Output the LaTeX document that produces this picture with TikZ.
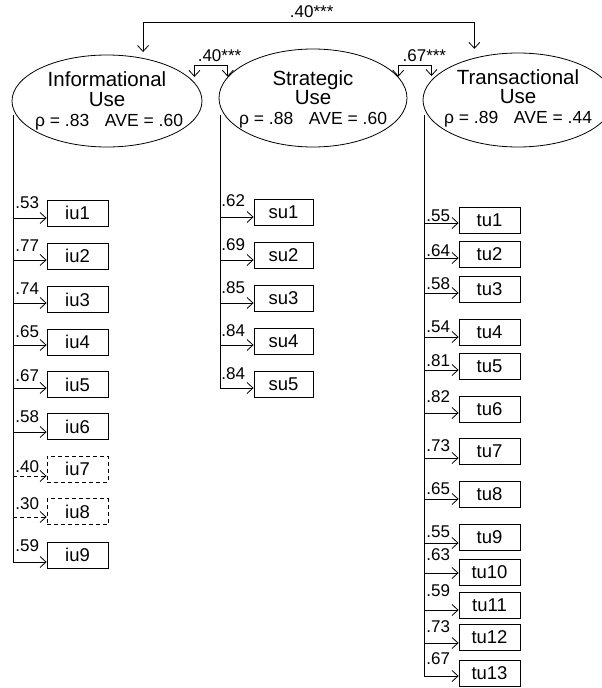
\documentclass[tikz,border=0pt]{standalone}
\usepackage{fontspec}
\setmainfont{Liberation Sans}
\usetikzlibrary{arrows.meta,shapes.geometric,calc}
\begin{document}
\begin{tikzpicture}[x=1pt,y=-1pt,
  >={Straight Barb[length=6pt,width=11pt]},
  line width=0.8pt,
  latent/.style={draw,ellipse,inner sep=0pt},
  nametext/.style={anchor=base,inner sep=0pt,font=\fontsize{20.5}{20}\selectfont},
  stattext/.style={anchor=base,inner sep=0pt,font=\fontsize{17.5}{18}\selectfont},
  ind/.style={draw,rectangle,inner sep=0pt,minimum height=26pt,font=\fontsize{18.5}{18}\selectfont},
  indd/.style={ind,dash pattern=on 4pt off 3pt},
  load/.style={->},
  loadd/.style={->,dash pattern=on 4pt off 3pt},
  lbl/.style={anchor=south west,inner sep=0pt,font=\fontsize{17}{17}\selectfont},
  corr/.style={anchor=south west,inner sep=0pt,font=\fontsize{17}{17}\selectfont}]
\fill[white] (0,0) rectangle (602,688);
\useasboundingbox (0,0) rectangle (602,688);
\clip (0,0) rectangle (602,688);

% latent variables
\node[latent,minimum width=190pt,minimum height=92pt] (IU) at (107,101) {};
\node[latent,minimum width=188pt,minimum height=98pt] (SU) at (313,98) {};
\node[latent,minimum width=190pt,minimum height=94pt] (TU) at (518,100) {};

\node[nametext] (IUa) at (107,86) {Informational};
\node[nametext] (IUb) at (107,106) {Use};
\node[stattext] (IUc) at (109,126.5) {ρ = .83\hspace{0.9em}AVE = .60};
\node[nametext] (SUa) at (313,85) {Strategic};
\node[nametext] (SUb) at (313,104) {Use};
\node[stattext] (SUc) at (313,124.5) {ρ = .88\hspace{0.9em}AVE = .60};
\node[nametext] (TUa) at (518,84) {Transactional};
\node[nametext] (TUb) at (518,103) {Use};
\node[stattext] (TUc) at (518,123.5) {ρ = .89\hspace{0.9em}AVE = .44};

% correlations
\coordinate (topbar) at (308,22);
\draw[<->,shorten <=6pt,shorten >=9pt] (IU.50) -- (IU.50 |- topbar) -- (TU.136 |- topbar) -- (TU.136);
\node[corr,anchor=south] (c1) at ($(IU.50 |- topbar)!0.5!(TU.136 |- topbar)+(3,-4)$) {.40***};

\coordinate (br1) at (211,65);
\draw[<->,shorten <=5.5pt] (IU.12) -- (IU.12 |- br1) -- (SU.166 |- br1) -- (SU.166);
\node[corr] (c2) at ($(IU.12 |- br1)+(3,-3)$) {.40***};

\coordinate (br2) at (414,65);
\draw[<->,shorten >=4pt] (SU.14) -- (SU.14 |- br2) -- (TU.167 |- br2) -- (TU.167);
\node[corr] (c3) at ($(SU.14 |- br2)+(4,-3)$) {.67***};

% informational indicators
\coordinate (iutop) at (13,115);
\foreach \n/\t/\c/\a/\l/\s/\r in {
  iu1/.53/213/218/209/ind/load,
  iu2/.77/256/260/252/ind/load,
  iu3/.74/299.5/303/295/ind/load,
  iu4/.65/342/345/338/ind/load,
  iu5/.67/384.5/388/382/ind/load,
  iu6/.58/426.5/432/423/ind/load,
  iu7/.40/469/476/473/indd/loadd,
  iu8/.30/511.5/517/510/indd/loadd,
  iu9/.59/555/562/552/ind/load}{
  \node[\s,minimum width=61pt] (\n) at (77.5,\c) {\n};
  \coordinate (s\n) at (13,\a);
  \draw[\r] (s\n) -- (s\n -| \n.west);
  \node[lbl] (l\n) at (15,\l) {\t};
}
\draw (iutop) -- (siu9);

% strategic indicators
\coordinate (sutop) at (220,115);
\foreach \n/\t/\c/\a/\l in {
  su1/.62/212/217/207,
  su2/.69/255/260/251,
  su3/.85/298/303/294,
  su4/.84/341/345/337,
  su5/.84/384/388/380}{
  \node[ind,minimum width=59pt] (\n) at (283.5,\c) {\n};
  \coordinate (s\n) at (220,\a);
  \draw[load] (s\n) -- (s\n -| \n.west);
  \node[lbl] (l\n) at (221,\l) {\t};
}
\draw (sutop) -- (ssu5);

% transactional indicators
\coordinate (tutop) at (424,115);
\foreach \n/\t/\c/\a/\l in {
  tu1/.55/220/223/222,
  tu2/.64/254.5/258/257,
  tu3/.58/289/293/290,
  tu4/.54/332/337/333,
  tu5/.81/366/370/367,
  tu6/.82/409/413/403,
  tu7/.73/451/458/452,
  tu8/.65/494.5/499/495,
  tu9/.55/537.5/543/538,
  tu10/.63/572/573/561,
  tu11/.59/605.5/610/597,
  tu12/.73/637.5/643/633,
  tu13/.67/673.5/676/665}{
  \node[ind,minimum width=61pt] (\n) at (489.5,\c) {\n};
  \coordinate (s\n) at (424,\a);
  \draw[load] (s\n) -- (s\n -| \n.west);
  \node[lbl] (l\n) at (426,\l) {\t};
}
\draw (tutop) -- (stu13);
\end{tikzpicture}
\end{document}
